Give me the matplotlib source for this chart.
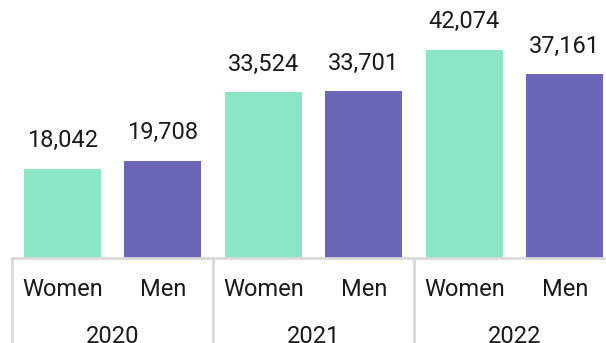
import matplotlib.pyplot as plt

years = ["2020", "2021", "2022"]
groups = ["Women", "Men"]
women = [18042, 33524, 42074]
men = [19708, 33701, 37161]

colors = {"Women": "#8ae6c3", "Men": "#6b66b8"}
text_color = "#1a1a1a"
grid_color = "#d9d9d9"

plt.rcParams["font.family"] = ["Roboto", "DejaVu Sans"]

fig = plt.figure(figsize=(6.06, 3.43), dpi=100)
# axes run slightly past the right edge, so the last bar is clipped
ax = fig.add_axes([12 / 606, 85 / 343, 603 / 606, 258 / 343])

values = []
for w, m in zip(women, men):
    values += [w, m]
labels = groups * len(years)
xs = [i + 0.5 for i in range(len(values))]

for x, v, lab in zip(xs, values, labels):
    ax.bar(x, v, width=0.765, color=colors[lab], linewidth=0)
    ax.annotate(f"{v:,}", (x, v), xytext=(0, 12), textcoords="offset points",
                ha="center", va="bottom", fontsize=17, color=text_color)

ax.set_xlim(0, len(values))
ax.set_ylim(0, 52200)
ax.set_xticks([])
ax.set_yticks([])
for side in ["top", "left", "right"]:
    ax.spines[side].set_visible(False)
ax.spines["bottom"].set_color(grid_color)
ax.spines["bottom"].set_linewidth(2)

tr = ax.get_xaxis_transform()
for x, lab in zip(xs, labels):
    ax.text(x, -0.124, lab, transform=tr, ha="center", va="center",
            fontsize=17, color=text_color)
for i, yr in enumerate(years):
    ax.text(2 * i + 1, -0.305, yr, transform=tr, ha="center", va="center",
            fontsize=17, color=text_color)
for i in range(len(years) + 1):
    ax.plot([2 * i, 2 * i], [0, -0.4], transform=tr, color=grid_color,
            lw=2, clip_on=False)

fig.savefig("out.png", dpi=100)
